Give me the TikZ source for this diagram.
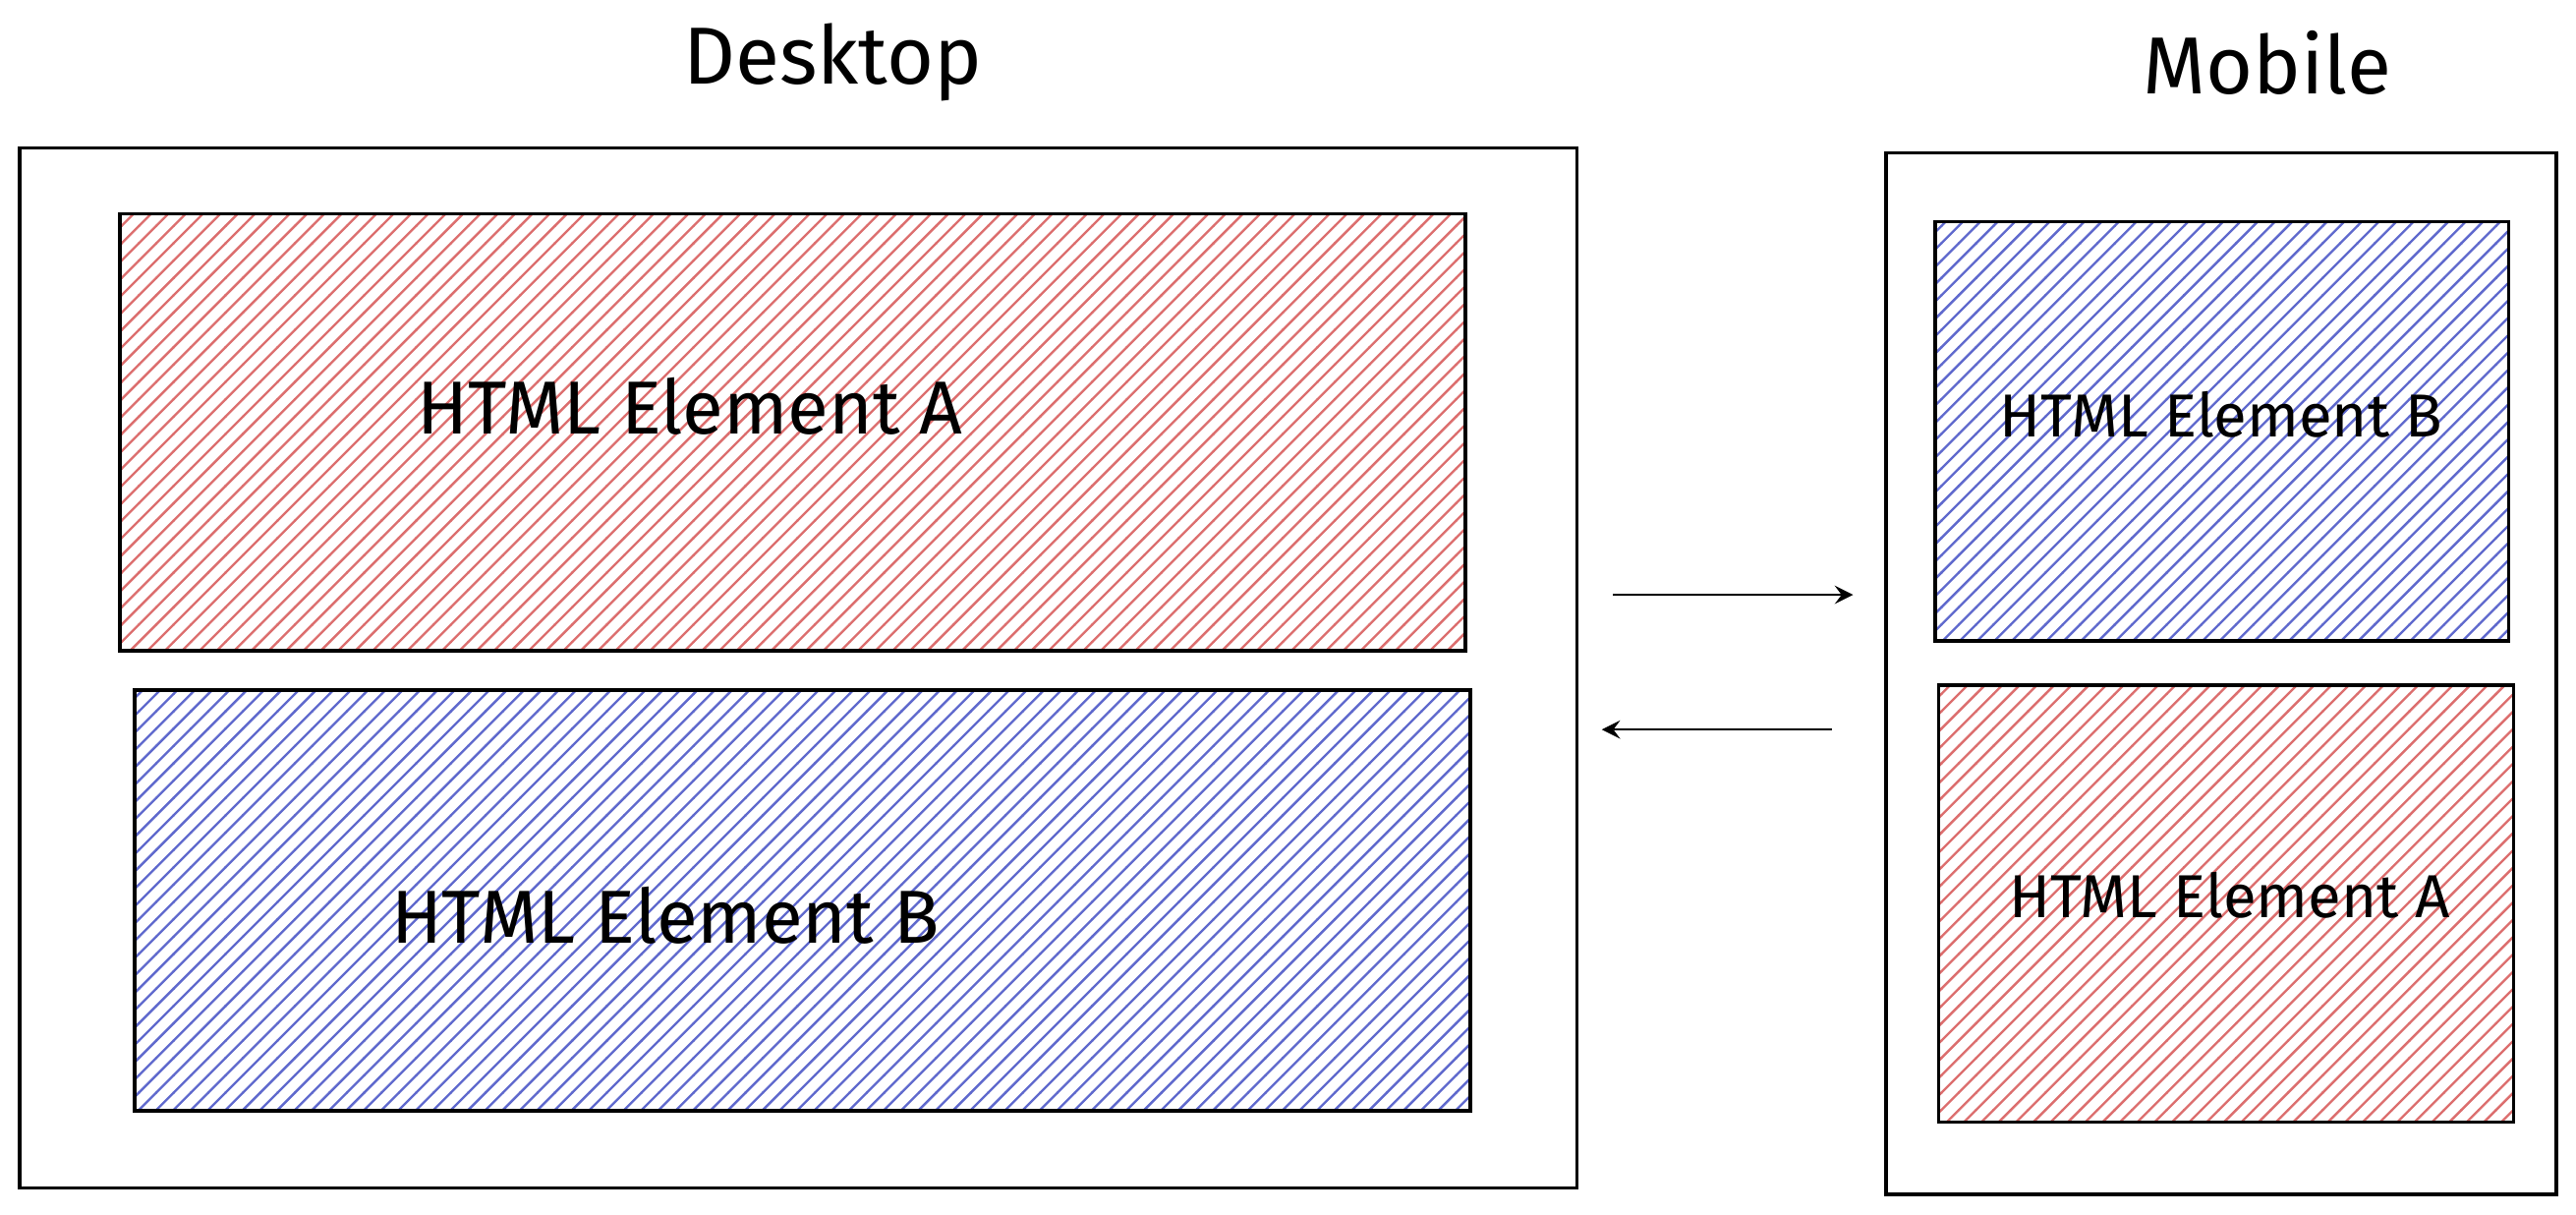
\documentclass[tikz,border=0pt]{standalone}
\usepackage{fontspec}
\setmainfont{Fira Sans}
\usetikzlibrary{patterns}
\definecolor{hatchred}{RGB}{220,110,110}
\definecolor{hatchblue}{RGB}{95,105,205}
\tikzset{
	redbox/.style={draw=black,semithick,pattern=north east lines,pattern color=hatchred},
	bluebox/.style={draw=black,semithick,pattern=north east lines,pattern color=hatchblue},
	label/.style={font=\fontsize{13}{16}\selectfont},
	small label/.style={font=\fontsize{10.5}{13}\selectfont},
	title/.style={font=\fontsize{14}{17}\selectfont},
}
\begin{document}
\begin{tikzpicture}[x=0.01cm,y=-0.01cm]
	
	\useasboundingbox (0,0) rectangle (1568,739);
	
	\draw[semithick] (12,90) rectangle (960,723);
	\draw[semithick] (1148,93) rectangle (1556,727);
	\node[title] (desk) at (507,38) {Desktop};
	\node[title] (mob)  at (1380,38) {Mobile};
	
	\draw[redbox]  (73,130)   rectangle (892,396);
	\draw[bluebox] (82,420)   rectangle (895,676);
	\draw[bluebox] (1178,135) rectangle (1527,390);
	\draw[redbox]  (1180,417) rectangle (1530,683);
	
	\node[label] (da) at (420,247)  {HTML Element A};
	\node[label] (db) at (405,557)  {HTML Element B};
	\node[small label] (mb) at (1352,252) {HTML Element B};
	\node[small label] (ma) at (1357,545) {HTML Element A};
	
	\coordinate (r1) at (982,362);
	\coordinate (r2) at (1128,362);
	\coordinate (l1) at (1115,444);
	\coordinate (l2) at (975,444);
	\draw[->,>=stealth] (r1) -- (r2);
	\draw[->,>=stealth] (l1) -- (l2);
	
\end{tikzpicture}
\end{document}
